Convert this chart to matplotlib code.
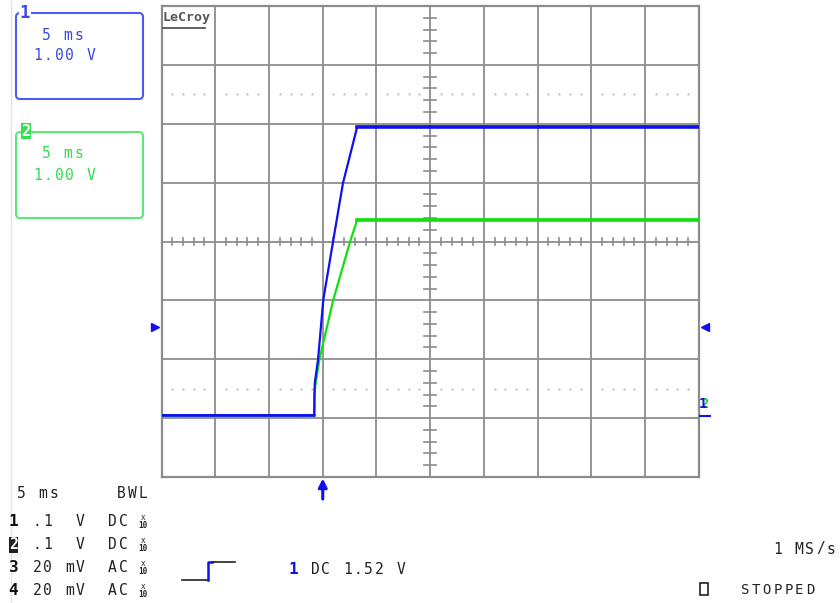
import matplotlib
matplotlib.use("Agg")
import matplotlib.pyplot as plt
from matplotlib.patches import FancyBboxPatch, Rectangle
from matplotlib.transforms import ScaledTranslation

# trace data: time in ms, level in divisions (1 V/div)
blue_t = [-25.0, -10.79, -10.79, -10.74, -10.44, -9.95, -9.05, -8.12, -6.79, 25.0]
blue_v = [-2.95, -2.95, -2.95, -2.40, -2.01, -0.99, -0.01, 0.99, 1.95, 1.95]
green_t = [-25.0, -10.79, -10.79, -10.32, -9.02, -7.47, -6.79, 25.0]
green_v = [-2.96, -2.96, -2.57, -2.01, -0.99, -0.01, 0.37, 0.37]

trig_t = -10.0      # trigger position, ms
ground_v = -1.45    # channel offset marker, div

box_lines = ["5 ms", "1.00 V"]
timebase = "5 ms"
chan_rows = [("1", " .1  V  DC"), ("2", " .1  V  DC"),
             ("3", " 20 mV  AC"), ("4", " 20 mV  AC")]
trig_text = "DC 1.52 V"
rate_text = "1 MS/s"
state_text = "STOPPED"

BLUE = "#1010f0"
GREEN = "#10e010"
GRID = "#8c8c8c"
INK = "#222222"
CELL = 10.75

fig = plt.figure(figsize=(8.4, 6.03), dpi=100)
fig.patch.set_facecolor("white")

# scope graticule
ax = fig.add_axes([161.5 / 840, 1 - 477 / 603, 537.5 / 840, 471 / 603], zorder=1)
ax.set_xlim(-25, 25)
ax.set_ylim(-4, 4)
for s in ax.spines.values():
    s.set_color(GRID)
    s.set_linewidth(1.6)
ax.set_xticks([])
ax.set_yticks([])
for x in range(-20, 25, 5):
    ax.axvline(x, color=GRID, lw=1.3, zorder=1)
for y in range(-3, 4):
    ax.axhline(y, color=GRID, lw=1.3, zorder=1)

# minor ticks on the centre cross + dotted rows
for x in range(-25, 26):
    if x % 5:
        ax.plot([x, x], [-0.065, 0.065], color=GRID, lw=1.2, zorder=1)
        for yd in (-2.5, 2.5):
            ax.plot([x], [yd], "s", color="#b0b0b0", ms=1.3, mew=0, zorder=1)
for k in range(-20, 21):
    if k % 5:
        y = k * 0.2
        ax.plot([-0.55, 0.55], [y, y], color=GRID, lw=1.2, zorder=1)

# traces
ax.plot(green_t, green_v, color=GREEN, lw=1.6, zorder=3)
ax.plot(blue_t, blue_v, color=BLUE, lw=1.6, zorder=4)
ax.plot(green_t[-2:], green_v[-2:], color=GREEN, lw=2.6, zorder=3)
ax.plot(blue_t[-2:], blue_v[-2:], color=BLUE, lw=2.6, zorder=4)
ax.plot(blue_t[:2], blue_v[:2], color=BLUE, lw=1.8, zorder=4)

# offset markers just outside the graticule
left_mk, = ax.plot([-25], [ground_v], marker=">", color=BLUE, ms=6,
                   clip_on=False, linestyle="none", zorder=6)
left_mk.set_transform(ax.transData + ScaledTranslation(-7 / 100, 0, fig.dpi_scale_trans))
right_mk, = ax.plot([25], [ground_v], marker="<", color=BLUE, ms=6,
                    clip_on=False, linestyle="none", zorder=6)
right_mk.set_transform(ax.transData + ScaledTranslation(6 / 100, 0, fig.dpi_scale_trans))

# trigger arrow under the graticule
ax.annotate("", xy=(trig_t, -4), xycoords="data",
            xytext=(0, -22), textcoords="offset pixels",
            arrowprops=dict(arrowstyle="-|>,head_width=0.25,head_length=0.5",
                            color=BLUE, lw=2.2, shrinkA=0, shrinkB=1),
            annotation_clip=False)

# overlay in screen pixels for the readout text
ov = fig.add_axes([0, 0, 1, 1], zorder=5)
ov.set_xlim(0, 840)
ov.set_ylim(603, 0)
ov.axis("off")
ov.patch.set_alpha(0)

ov.plot([11, 11], [0, 603], color="#e2e2e2", lw=1)


def mono(x0, y, s, color=INK, size=10.5, weight="normal"):
    for i, ch in enumerate(s):
        if ch != " ":
            ov.text(x0 + i * CELL + CELL / 2, y, ch, ha="center", va="center",
                    family="DejaVu Sans Mono", fontsize=size, color=color,
                    fontweight=weight)


# channel boxes
for top, col, tcol in ((13, "#4a5cf2", "#3a48e8"), (132, "#5ae87a", "#30dc50")):
    ov.add_patch(FancyBboxPatch((16, top), 127, 86, boxstyle="round,pad=0,rounding_size=4",
                                fc="none", ec=col, lw=1.5))
    mono(41, top + 22, box_lines[0], color=tcol)
    mono(32, top + 43, box_lines[1], color=tcol)
ov.text(25, 13, "1", ha="center", va="center", family="DejaVu Sans Mono",
        fontsize=12.5, fontweight="bold", color="#3a48e8",
        bbox=dict(fc="white", ec="none", pad=0.5))
ov.text(26, 131, "2", ha="center", va="center", family="DejaVu Sans Mono",
        fontsize=11, fontweight="bold", color="white",
        bbox=dict(fc="#30e050", ec="none", pad=0.6))

# LeCroy tag
ov.text(163, 17, "LeCroy", ha="left", va="center", family="DejaVu Sans Mono",
        fontsize=9.5, fontweight="bold", color="#555555")
ov.plot([163, 205], [27.5, 27.5], color="#555555", lw=1.3)

# right-hand trace level label
ov.text(704, 404, "2", ha="center", va="center", family="DejaVu Sans Mono",
        fontsize=10, fontweight="bold", color=GREEN)
ov.text(703, 404, "1", ha="center", va="center", family="DejaVu Sans Mono",
        fontsize=10, fontweight="bold", color=BLUE)
ov.plot([700, 710], [416, 416], color=BLUE, lw=1.5)

# bottom readout
mono(16, 494, timebase)
mono(116, 494, "BWL")
for i, (num, rest) in enumerate(chan_rows):
    y = 522 + i * 22.7
    if num == "2":
        ov.text(10 + CELL / 2 - 2, y, num, ha="center", va="center",
                family="DejaVu Sans Mono", fontsize=10.5, fontweight="bold",
                color="white", bbox=dict(fc=INK, ec="none", pad=0.3))
    else:
        mono(8, y, num, weight="bold", size=11.5, color="#111111")
    mono(10 + CELL, y, rest)
    ov.text(143, y - 4, "x", ha="center", va="center", family="DejaVu Sans Mono",
            fontsize=5.5, color=INK)
    ov.text(143, y + 4, "10", ha="center", va="center", family="DejaVu Sans Mono",
            fontsize=5.5, color=INK, fontweight="bold")

# trigger symbol
ov.plot([182, 208], [580, 580], color=INK, lw=1.2)
ov.plot([208, 208, 212], [580, 562, 562], color=BLUE, lw=1.8)
ov.plot([212, 235], [562, 562], color=INK, lw=1.2)
mono(288, 570, "1", color=BLUE, weight="bold", size=11.5)
mono(288 + 2 * CELL, 570, trig_text)

mono(772, 549, rate_text)
ov.add_patch(Rectangle((700, 583), 8, 12, fc="none", ec=INK, lw=1.2))
mono(740, 590, state_text, size=10)

plt.savefig("out.png", dpi=100)
